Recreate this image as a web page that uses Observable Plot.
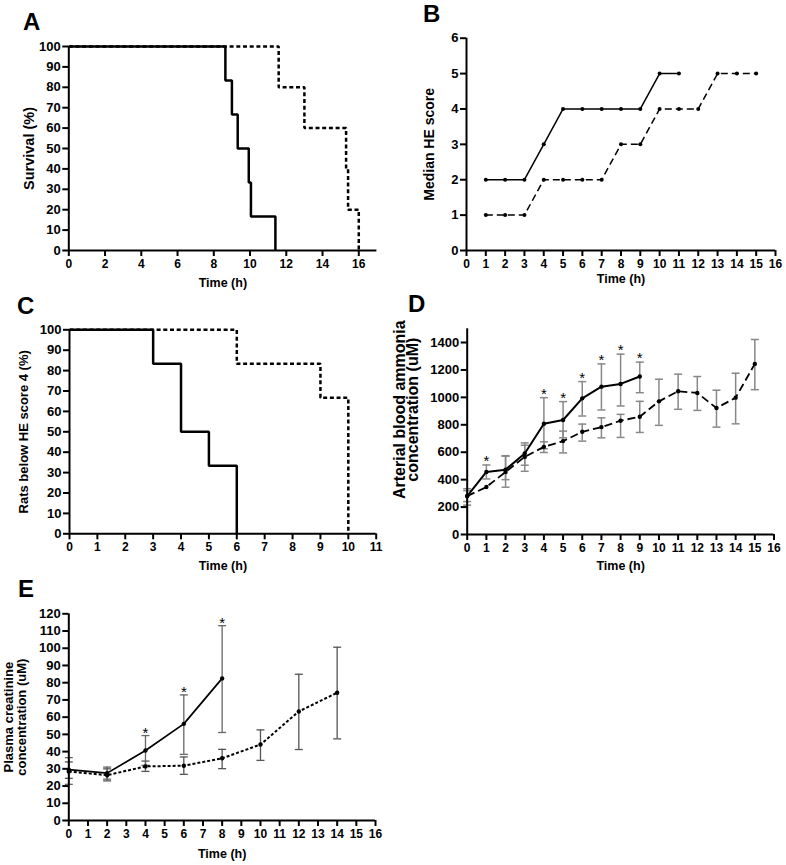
<!DOCTYPE html>
<html><head><meta charset="utf-8">
<script src="https://cdn.jsdelivr.net/npm/d3@7"></script>
<script src="https://cdn.jsdelivr.net/npm/@observablehq/plot@0.6"></script>
<style>
body{margin:0;background:#fff;}
#wrap{position:relative;width:786px;height:865px;overflow:hidden;font-family:"Liberation Sans",Arial,sans-serif;}
.panel{position:absolute;}
.letter{position:absolute;font-size:24px;font-weight:bold;line-height:24px;color:#000;}
</style></head><body><div id="wrap"></div>
<script>
// ---------- Panel A: survival (%) ----------
const aSolidTime = [0, 8.64, 9.0, 9.32, 9.93, 10.05, 11.4];
const aSolidSurv = [100, 83.3, 66.7, 50, 33.3, 16.7, 0];
const aDashTime = [0, 11.58, 13.0, 15.3, 15.41, 16.0];
const aDashSurv = [100, 80, 60, 40, 20, 0];
const aXTicks = [0, 2, 4, 6, 8, 10, 12, 14, 16];
const aYTicks = [0, 10, 20, 30, 40, 50, 60, 70, 80, 90, 100];

// ---------- Panel B: median HE score ----------
const bSolidTime = [1, 2, 3, 4, 5, 6, 7, 8, 9, 10, 11];
const bSolidScore = [2, 2, 2, 3, 4, 4, 4, 4, 4, 5, 5];
const bDashTime = [1, 2, 3, 4, 5, 6, 7, 8, 9, 10, 11, 12, 13, 14, 15];
const bDashScore = [1, 1, 1, 2, 2, 2, 2, 3, 3, 4, 4, 4, 5, 5, 5];
const bXTicks = [0, 1, 2, 3, 4, 5, 6, 7, 8, 9, 10, 11, 12, 13, 14, 15, 16];
const bYTicks = [0, 1, 2, 3, 4, 5, 6];

// ---------- Panel C: rats below HE score 4 (%) ----------
const cSolidTime = [0, 3, 4, 5, 6];
const cSolidPct = [100, 83.3, 50, 33.3, 0];
const cDashTime = [0, 6, 9, 10];
const cDashPct = [100, 83.3, 66.7, 0];
const cXTicks = [0, 1, 2, 3, 4, 5, 6, 7, 8, 9, 10, 11];
const cYTicks = [0, 10, 20, 30, 40, 50, 60, 70, 80, 90, 100];

// ---------- Panel D: arterial blood ammonia (uM) ----------
const dSolidTime = [0, 1, 2, 3, 4, 5, 6, 7, 8, 9];
const dSolidMean = [280, 456, 473, 591, 808, 835, 993, 1078, 1098, 1152];
const dSolidHi = [334, 507, 571, 668, 998, 969, 1115, 1244, 1315, 1257];
const dSolidLo = [214, 405, 400, 505, 625, 705, 864, 908, 937, 1034];
const dDashTime = [0, 1, 2, 3, 4, 5, 6, 7, 8, 9, 10, 11, 12, 13, 14, 15];
const dDashMean = [280, 346, 456, 566, 639, 681, 749, 783, 830, 859, 971, 1045, 1032, 922, 998, 1244];
const dDashHi = [320, null, 575, 651, 676, 754, 805, 851, 876, 971, 1132, 1169, 1152, 1052, 1176, 1422];
const dDashLo = [240, null, 345, 461, 598, 595, 681, 705, 708, 744, 796, 913, 905, 783, 807, 1056];
const dStarTime = [1, 4, 5, 6, 7, 8, 9];
const dXTicks = [0, 1, 2, 3, 4, 5, 6, 7, 8, 9, 10, 11, 12, 13, 14, 15, 16];
const dYTicks = [0, 200, 400, 600, 800, 1000, 1200, 1400];

// ---------- Panel E: plasma creatinine (uM) ----------
const eSolidTime = [0, 2, 4, 6, 8];
const eSolidMean = [29.5, 27.5, 40.6, 56.1, 82.5];
const eSolidHi = [36.5, 31, 49.3, 72.9, 113.1];
const eSolidLo = [21, 24, 32, 38.4, 51.1];
const eDashTime = [0, 2, 4, 6, 8, 10, 12, 14];
const eDashMean = [28.5, 26.3, 31.4, 31.8, 36.1, 44.1, 63.3, 74.2];
const eDashHi = [34, 30, 34.5, 36.9, 41.3, 52.6, 84.9, 100.6];
const eDashLo = [24.5, 23, 28.5, 26.8, 30.1, 34.9, 41.2, 47.4];
const eStarTime = [4, 6, 8];
const eXTicks = [0, 1, 2, 3, 4, 5, 6, 7, 8, 9, 10, 11, 12, 13, 14, 15, 16];
const eYTicks = [0, 10, 20, 30, 40, 50, 60, 70, 80, 90, 100, 110, 120];

// ---------- helpers ----------
const zip = (t, v, hi, lo) => t.map((x, i) => ({t: x, v: v[i], hi: hi ? hi[i] : null, lo: lo ? lo[i] : null}));
const capSymbol = {draw(ctx, size) { const w = Math.sqrt(size / Math.PI); ctx.moveTo(-w, 0); ctx.lineTo(w, 0); }};
const FONT = '"Liberation Sans", Arial, Helvetica, sans-serif';

function errorMarks(data, color, width) {
  const d = data.filter(p => p.hi != null && p.lo != null);
  return [
    Plot.ruleX(d, {x: "t", y1: "lo", y2: "hi", stroke: color, strokeWidth: width}),
    Plot.dot(d, {x: "t", y: "hi", symbol: capSymbol, r: 4, stroke: color, strokeWidth: width, fill: "none"}),
    Plot.dot(d, {x: "t", y: "lo", symbol: capSymbol, r: 4, stroke: color, strokeWidth: width, fill: "none"})
  ];
}

function panel(o) {
  const fig = Plot.plot({
    width: o.w, height: o.h,
    marginLeft: o.ml, marginRight: o.mr, marginTop: o.mt, marginBottom: o.mb,
    x: {type: "linear", domain: o.xd},
    y: {type: "linear", domain: o.yd},
    style: {fontFamily: FONT, fontSize: "12px", fontWeight: "bold", background: "none", overflow: "visible", color: "#000"},
    marks: [
      ...o.marks,
      Plot.ruleX([0], {stroke: "#000", strokeWidth: 2}),
      Plot.ruleY([0], {stroke: "#000", strokeWidth: 2}),
      Plot.axisX(o.xt, {tickSize: 6, tickPadding: 3, strokeWidth: 2, label: null, fontSize: 12, tickFormat: d => String(d)}),
      Plot.axisY(o.yt, {tickSize: 6, tickPadding: 2, strokeWidth: 2, label: null, fontSize: 13, tickFormat: d => String(d)}),
      Plot.text([o.xLabel], {frameAnchor: "bottom", textAnchor: "middle", dy: o.xlo, lineAnchor: "bottom", fontSize: 12.5}),
      Plot.text([o.yLabel], {frameAnchor: "left", textAnchor: "middle", rotate: -90, dx: -o.ylo, dy: o.ydy || 0, lineAnchor: "top", fontSize: o.yfs, lineHeight: o.ylh || 1})
    ]
  });
  const div = document.createElement("div");
  div.className = "panel";
  div.style.left = o.left + "px";
  div.style.top = o.top + "px";
  div.appendChild(fig);
  document.getElementById("wrap").appendChild(div);
  const L = document.createElement("div");
  L.className = "letter";
  L.textContent = o.letter;
  L.style.left = o.lx + "px";
  L.style.top = o.ly + "px";
  document.getElementById("wrap").appendChild(L);
}

// Panel A
panel({
  letter: "A", lx: 23, ly: 10,
  left: 0, top: 0, w: 393, h: 295, ml: 68.3, mr: 16.6, mt: 46, mb: 45,
  xd: [0, 17], yd: [0, 100], xt: aXTicks, yt: aYTicks,
  xLabel: "Time (h)", xlo: 36.7, yLabel: "Survival (%)", ylo: 45, yfs: 14.5,
  marks: [
    Plot.line(zip(aDashTime, aDashSurv), {x: "t", y: "v", curve: "step-after", stroke: "#000", strokeWidth: 2.5, strokeDasharray: "4,2.7", strokeLinecap: "butt", strokeLinejoin: "miter"}),
    Plot.line(zip(aSolidTime, aSolidSurv), {x: "t", y: "v", curve: "step-after", stroke: "#000", strokeWidth: 2.5, strokeLinejoin: "miter", strokeLinecap: "butt"})
  ]
});

// Panel B
panel({
  letter: "B", lx: 423, ly: 2,
  left: 393, top: 0, w: 393, h: 295, ml: 73, mr: 11, mt: 37.7, mb: 45,
  xd: [0, 16], yd: [0, 6], xt: bXTicks, yt: bYTicks,
  xLabel: "Time (h)", xlo: 32.5, yLabel: "Median HE score", ylo: 42, yfs: 14,
  marks: [
    Plot.line(zip(bDashTime, bDashScore), {x: "t", y: "v", stroke: "#000", strokeWidth: 1.5, strokeDasharray: "7,4", strokeLinecap: "butt"}),
    Plot.line(zip(bSolidTime, bSolidScore), {x: "t", y: "v", stroke: "#000", strokeWidth: 1.5}),
    Plot.dot(zip(bDashTime, bDashScore), {x: "t", y: "v", r: 2, fill: "#000"}),
    Plot.dot(zip(bSolidTime, bSolidScore), {x: "t", y: "v", r: 2, fill: "#000"})
  ]
});

// Panel C
panel({
  letter: "C", lx: 17, ly: 294,
  left: 0, top: 285, w: 393, h: 290, ml: 69, mr: 17.3, mt: 44.3, mb: 41.7,
  xd: [0, 11], yd: [0, 100], xt: cXTicks, yt: cYTicks,
  xLabel: "Time (h)", xlo: 36, yLabel: "Rats below HE score 4 (%)", ylo: 51, yfs: 13,
  marks: [
    Plot.line(zip(cDashTime, cDashPct), {x: "t", y: "v", curve: "step-after", stroke: "#000", strokeWidth: 2.5, strokeDasharray: "4,2.7", strokeLinecap: "butt", strokeLinejoin: "miter"}),
    Plot.line(zip(cSolidTime, cSolidPct), {x: "t", y: "v", curve: "step-after", stroke: "#000", strokeWidth: 2.5, strokeLinejoin: "miter", strokeLinecap: "butt"})
  ]
});

// Panel D
const dSolid = zip(dSolidTime, dSolidMean, dSolidHi, dSolidLo);
const dDash = zip(dDashTime, dDashMean, dDashHi, dDashLo);
panel({
  letter: "D", lx: 408, ly: 292,
  left: 393, top: 285, w: 393, h: 290, ml: 73.7, mr: 12.5, mt: 43.3, mb: 41,
  xd: [0, 16], yd: [0, 1500], xt: dXTicks, yt: dYTicks,
  xLabel: "Time (h)", xlo: 35.5, yLabel: "Arterial blood ammonia\nconcentration (uM)", ylo: 71, ydy: -22, yfs: 16, ylh: 0.78,
  marks: [
    ...errorMarks(dDash, "#888", 1.5),
    ...errorMarks(dSolid, "#888", 1.5),
    Plot.line(dDash, {x: "t", y: "v", stroke: "#000", strokeWidth: 1.8, strokeDasharray: "8,4", strokeLinecap: "butt"}),
    Plot.line(dSolid, {x: "t", y: "v", stroke: "#000", strokeWidth: 2}),
    Plot.dot(dDash, {x: "t", y: "v", r: 2.2, fill: "#000"}),
    Plot.dot(dSolid, {x: "t", y: "v", r: 2.2, fill: "#000"}),
    Plot.text(dSolid.filter(p => dStarTime.includes(p.t)), {x: "t", y: "hi", text: () => "*", lineAnchor: "bottom", fontSize: 15, fontWeight: "normal", fill: "#000", dy: 1})
  ]
});

// Panel E
const eSolid = zip(eSolidTime, eSolidMean, eSolidHi, eSolidLo);
const eDash = zip(eDashTime, eDashMean, eDashHi, eDashLo);
panel({
  letter: "E", lx: 18, ly: 577,
  left: 0, top: 575, w: 393, h: 290, ml: 68.3, mr: 18, mt: 38.3, mb: 45,
  xd: [0, 16], yd: [0, 120], xt: eXTicks, yt: eYTicks,
  xLabel: "Time (h)", xlo: 37, yLabel: "Plasma creatinine\nconcentration (uM)", ylo: 65, yfs: 13,
  marks: [
    ...errorMarks(eDash, "#555", 1.3),
    ...errorMarks(eSolid, "#666", 1.3),
    Plot.line(eDash, {x: "t", y: "v", stroke: "#000", strokeWidth: 2, strokeDasharray: "3,2", strokeLinecap: "butt"}),
    Plot.line(eSolid, {x: "t", y: "v", stroke: "#000", strokeWidth: 1.7}),
    Plot.dot(eDash, {x: "t", y: "v", r: 2.2, fill: "#000"}),
    Plot.dot(eSolid, {x: "t", y: "v", r: 2.2, fill: "#000"}),
    Plot.text(eSolid.filter(p => eStarTime.includes(p.t)), {x: "t", y: "hi", text: () => "*", lineAnchor: "bottom", fontSize: 15, fontWeight: "normal", fill: "#000", dy: 2})
  ]
});
</script>
</body></html>
